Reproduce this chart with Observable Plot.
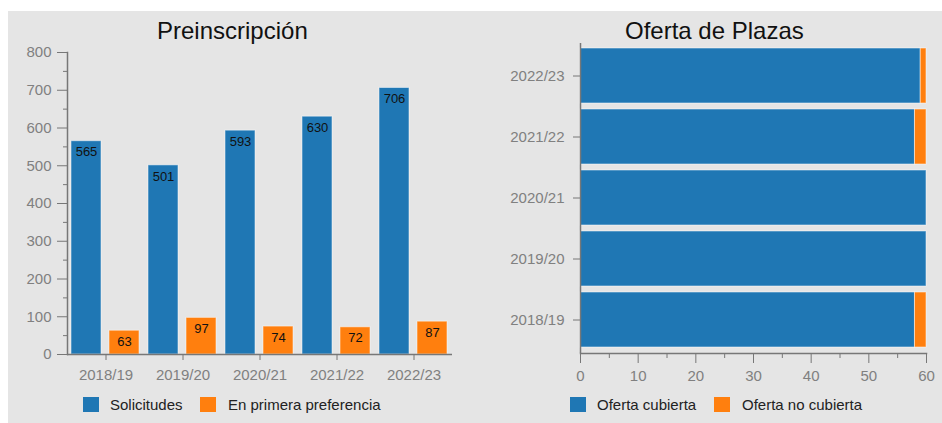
<!DOCTYPE html>
<html><head><meta charset="utf-8">
<script src="https://cdn.jsdelivr.net/npm/d3@7"></script>
<script src="https://cdn.jsdelivr.net/npm/@observablehq/plot@0.6"></script>
<style>
html,body{margin:0;padding:0;background:#fff;width:942px;height:423px;overflow:hidden;font-family:"Liberation Sans",Arial,sans-serif;}
#panel{position:absolute;left:8px;top:11px;width:934px;height:412px;background:#e5e5e5;}
.chart{position:absolute;top:0;}
.title{position:absolute;top:19px;font-size:24px;line-height:24px;color:#111;white-space:nowrap;}
.sw{position:absolute;width:16px;height:15px;top:397px;}
.lt{position:absolute;top:397px;font-size:15px;line-height:15px;color:#222;white-space:nowrap;}
</style></head><body>
<div id="panel"></div>
<div id="left" class="chart" style="left:0"></div>
<div id="right" class="chart" style="left:470px"></div>
<div class="title" style="left:157px">Preinscripción</div>
<div class="title" style="left:625px">Oferta de Plazas</div>
<div id="legends"></div>
<script>
const years = ["2018/19", "2019/20", "2020/21", "2021/22", "2022/23"];
const solicitudes = [565, 501, 593, 630, 706];
const primeraPreferencia = [63, 97, 74, 72, 87];
const seriesPre = ["Solicitudes", "En primera preferencia"];
const ofertaCubierta = [58, 60, 60, 58, 59];
const ofertaNoCubierta = [2, 0, 0, 2, 1];
const seriesOferta = ["Oferta cubierta", "Oferta no cubierta"];
const yTicksPre = [0, 100, 200, 300, 400, 500, 600, 700, 800];
const yMinorPre = [50, 150, 250, 350, 450, 550, 650, 750];
const xTicksOferta = [0, 10, 20, 30, 40, 50, 60];
const xMinorOferta = [5, 15, 25, 35, 45, 55];
const colors = ["#1f77b4", "#ff7f0e"];

const axisColor = "#777";
const tickText = "#808080";
const font = "Liberation Sans, Arial, sans-serif";

const pre = years.flatMap((y, i) => [
  {year: y, series: seriesPre[0], value: solicitudes[i]},
  {year: y, series: seriesPre[1], value: primeraPreferencia[i]}
]);

const leftPlot = Plot.plot({
  width: 470, height: 400,
  marginLeft: 66, marginRight: 18, marginTop: 52, marginBottom: 46,
  style: {background: "transparent", fontFamily: font, fontSize: "15px"},
  fx: {domain: years, padding: 0, label: null},
  x: {domain: seriesPre, paddingInner: 0.2, paddingOuter: 0.1, axis: null},
  y: {domain: [0, 800], label: null},
  color: {domain: seriesPre, range: colors},
  marks: [
    Plot.barY(pre, {fx: "year", x: "series", y: "value", fill: "series", stroke: "#fff", strokeOpacity: 0.5}),
    Plot.text(pre, {fx: "year", x: "series", y: "value", text: d => String(d.value), dy: 11, fill: "#111", fontSize: 13}),
    Plot.ruleY([0], {stroke: axisColor, strokeWidth: 1.5}),
    Plot.axisY(yTicksPre, {tickSize: 10, tickPadding: 6, stroke: axisColor, fill: tickText, fontSize: 15, label: null}),
    Plot.axisY(yMinorPre, {tickSize: 4, stroke: axisColor, fill: "none", label: null}),
    Plot.frame({anchor: "left", stroke: axisColor, strokeWidth: 1.5, facetAnchor: "left"}),
    Plot.axisFx({anchor: "bottom", tickSize: 6, tickPadding: 9, stroke: axisColor, fill: tickText, fontSize: 15, label: null})
  ]
});
document.getElementById("left").append(leftPlot);

const oferta = [];
years.forEach((y, i) => oferta.push({year: y, series: seriesOferta[0], value: ofertaCubierta[i]}));
years.forEach((y, i) => oferta.push({year: y, series: seriesOferta[1], value: ofertaNoCubierta[i]}));

const rightPlot = Plot.plot({
  width: 472, height: 400,
  marginLeft: 110, marginRight: 16, marginTop: 43, marginBottom: 47,
  style: {background: "transparent", fontFamily: font, fontSize: "15px"},
  x: {domain: [0, 60], label: null},
  y: {domain: years.slice().reverse(), paddingInner: 0.093, paddingOuter: 0.055, label: null},
  color: {domain: seriesOferta, range: colors},
  marks: [
    Plot.barX(oferta, Plot.stackX({y: "year", x: "value", fill: "series", filter: d => d.value > 0, stroke: "#fff", strokeOpacity: 0.5})),
    Plot.ruleX([0], {stroke: axisColor, strokeWidth: 1.5}),
    Plot.frame({anchor: "bottom", stroke: axisColor, strokeWidth: 1.5}),
    Plot.axisX(xTicksOferta, {tickSize: 10, tickPadding: 7, stroke: axisColor, fill: tickText, fontSize: 15, label: null}),
    Plot.axisX(xMinorOferta, {tickSize: 5, stroke: axisColor, fill: "none", label: null}),
    Plot.axisY({tickSize: 7, tickPadding: 9, stroke: axisColor, fill: tickText, fontSize: 15, label: null})
  ]
});
document.getElementById("right").append(rightPlot);

// legends
const legendItems = [
  {label: seriesPre[0], color: colors[0], sw: 83, tx: 110},
  {label: seriesPre[1], color: colors[1], sw: 200, tx: 228},
  {label: seriesOferta[0], color: colors[0], sw: 570, tx: 597},
  {label: seriesOferta[1], color: colors[1], sw: 714, tx: 742}
];
const lg = document.getElementById("legends");
for (const it of legendItems) {
  const s = document.createElement("div");
  s.className = "sw"; s.style.left = it.sw + "px"; s.style.background = it.color;
  const t = document.createElement("div");
  t.className = "lt"; t.style.left = it.tx + "px"; t.textContent = it.label;
  lg.append(s, t);
}
</script>
</body></html>
